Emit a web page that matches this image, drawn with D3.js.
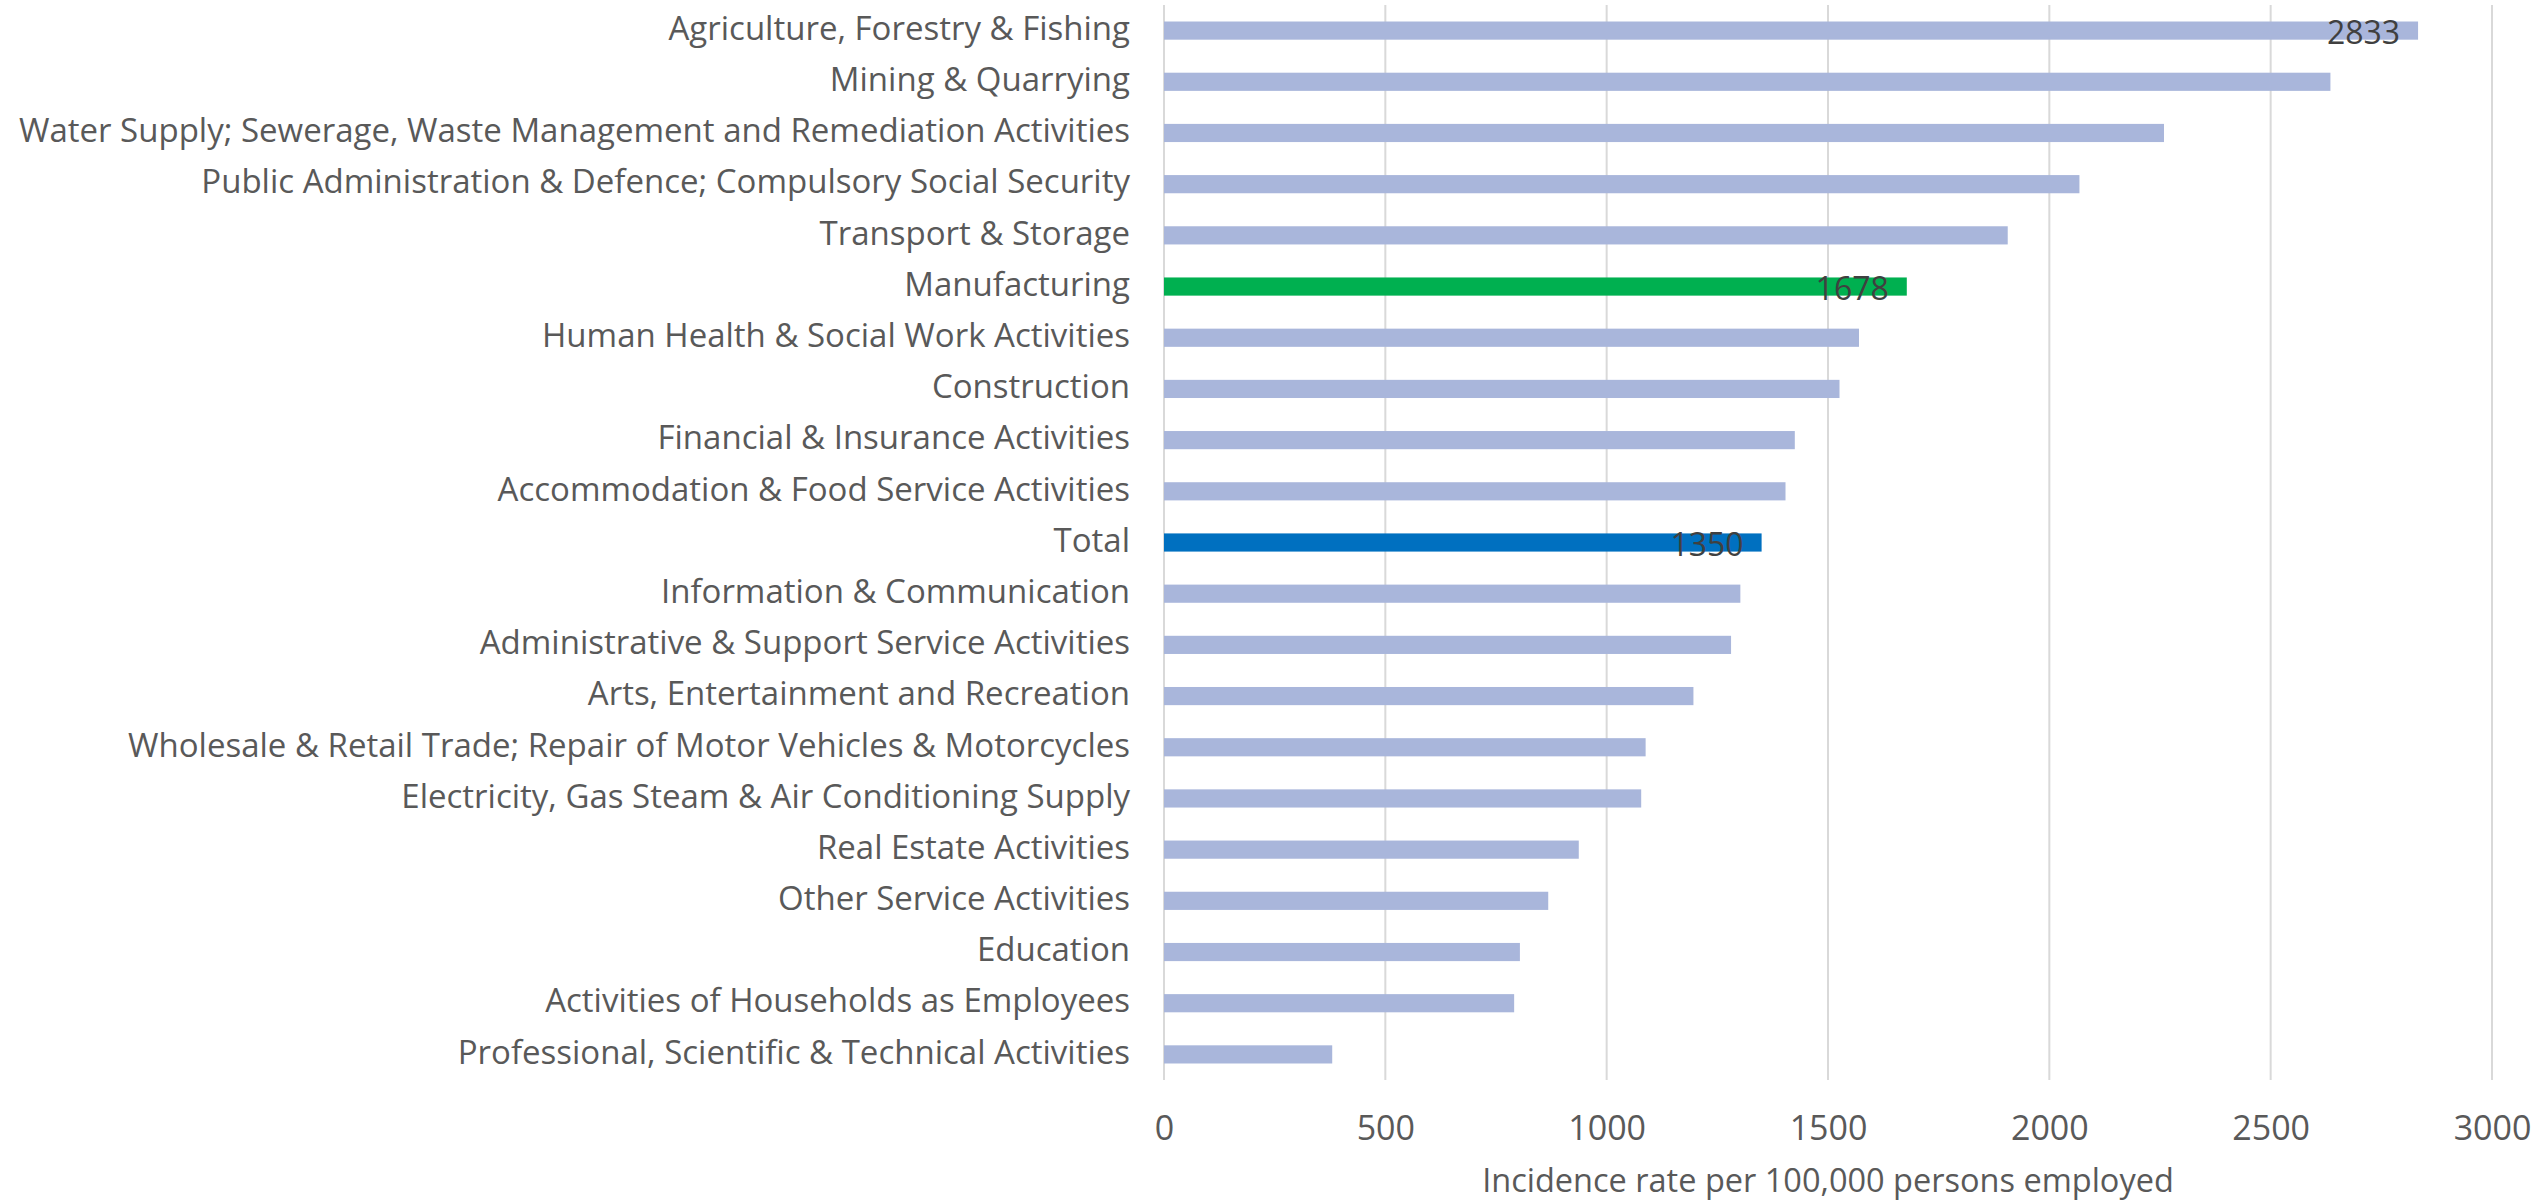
<!DOCTYPE html>
<html lang="en">
<head>
    <meta charset="UTF-8">
    <title>Incidence rate by industry</title>
    <script src="https://d3js.org/d3.v7.min.js"></script>
    <style>
        body { margin: 0; background: #fff; }
        .cat-label { font-family: "Open Sans", sans-serif; font-size: 33px; fill: #595959; }
        .tick text { font-family: "Open Sans", sans-serif; font-size: 34px; fill: #595959; }
        .axis-title { font-family: "Open Sans", sans-serif; font-size: 32.5px; fill: #595959; }
        .value-label { font-family: "Open Sans", sans-serif; font-size: 32px; fill: #404040; }
        .grid line { stroke: #d9d9d9; stroke-width: 2px; }
    </style>
</head>
<body>
    <svg id="chart" width="2542" height="1201"></svg>

    <script>
        // industries, top to bottom
        const categories = [
            "Agriculture, Forestry & Fishing",
            "Mining & Quarrying",
            "Water Supply; Sewerage, Waste Management and Remediation Activities",
            "Public Administration & Defence; Compulsory Social Security",
            "Transport & Storage",
            "Manufacturing",
            "Human Health & Social Work Activities",
            "Construction",
            "Financial & Insurance Activities",
            "Accommodation & Food Service Activities",
            "Total",
            "Information & Communication",
            "Administrative & Support Service Activities",
            "Arts, Entertainment and Recreation",
            "Wholesale & Retail Trade; Repair of Motor Vehicles & Motorcycles",
            "Electricity, Gas Steam & Air Conditioning Supply",
            "Real Estate Activities",
            "Other Service Activities",
            "Education",
            "Activities of Households as Employees",
            "Professional, Scientific & Technical Activities"
        ];
        const rates = [2833, 2635, 2259, 2068, 1906, 1678, 1570, 1526, 1425, 1404, 1350,
                       1302, 1281, 1196, 1088, 1078, 937, 868, 804, 791, 380];
        // bars that get a value label
        const labelled = ["Agriculture, Forestry & Fishing", "Manufacturing", "Total"];
        const xTicks = [0, 500, 1000, 1500, 2000, 2500, 3000];

        const barColor = d => d === "Manufacturing" ? "#00b050" : d === "Total" ? "#0070c0" : "#a9b6db";

        const svg = d3.select("#chart");
        const margin = { top: 5, left: 1164, right: 50, bottom: 121 };
        const width = 2542, height = 1201;

        const x = d3.scaleLinear().domain([0, 3000]).range([margin.left, width - margin.right]);
        const y = d3.scaleBand().domain(categories).range([margin.top, height - margin.bottom]).paddingInner(0.645).paddingOuter(0.3225);

        // vertical gridlines
        svg.append("g").attr("class", "grid")
            .selectAll("line").data(xTicks).join("line")
            .attr("x1", d => x(d)).attr("x2", d => x(d))
            .attr("y1", margin.top).attr("y2", height - margin.bottom);

        // bars
        svg.append("g").selectAll("rect")
            .data(categories).join("rect")
            .attr("x", x(0))
            .attr("y", d => y(d))
            .attr("height", y.bandwidth())
            .attr("width", (d, i) => x(rates[i]) - x(0))
            .attr("fill", d => barColor(d));

        // value labels inside bar end
        svg.append("g").selectAll("text")
            .data(categories.map((c, i) => ({ c, v: rates[i] })).filter(d => labelled.includes(d.c)))
            .join("text")
            .attr("class", "value-label")
            .attr("x", d => x(d.v) - 18)
            .attr("y", d => y(d.c) + y.bandwidth() / 2 + 13)
            .attr("text-anchor", "end")
            .text(d => d.v);

        // category labels
        svg.append("g").selectAll("text")
            .data(categories).join("text")
            .attr("class", "cat-label")
            .attr("x", margin.left - 34)
            .attr("y", d => y(d) + y.bandwidth() / 2)
            .attr("dy", "0.28em")
            .attr("text-anchor", "end")
            .text(d => d);

        // x axis
        const xAxis = d3.axisBottom(x).tickValues(xTicks).tickSize(0).tickPadding(0).tickFormat(d3.format("d"));
        const axisG = svg.append("g")
            .attr("transform", `translate(0, ${height - margin.bottom})`)
            .call(xAxis);
        axisG.select(".domain").remove();
        axisG.selectAll(".tick text").attr("dy", null).attr("y", 60);

        svg.append("text")
            .attr("class", "axis-title")
            .attr("x", (x(0) + x(3000)) / 2)
            .attr("y", 1192)
            .attr("text-anchor", "middle")
            .text("Incidence rate per 100,000 persons employed");
    </script>
</body>
</html>
